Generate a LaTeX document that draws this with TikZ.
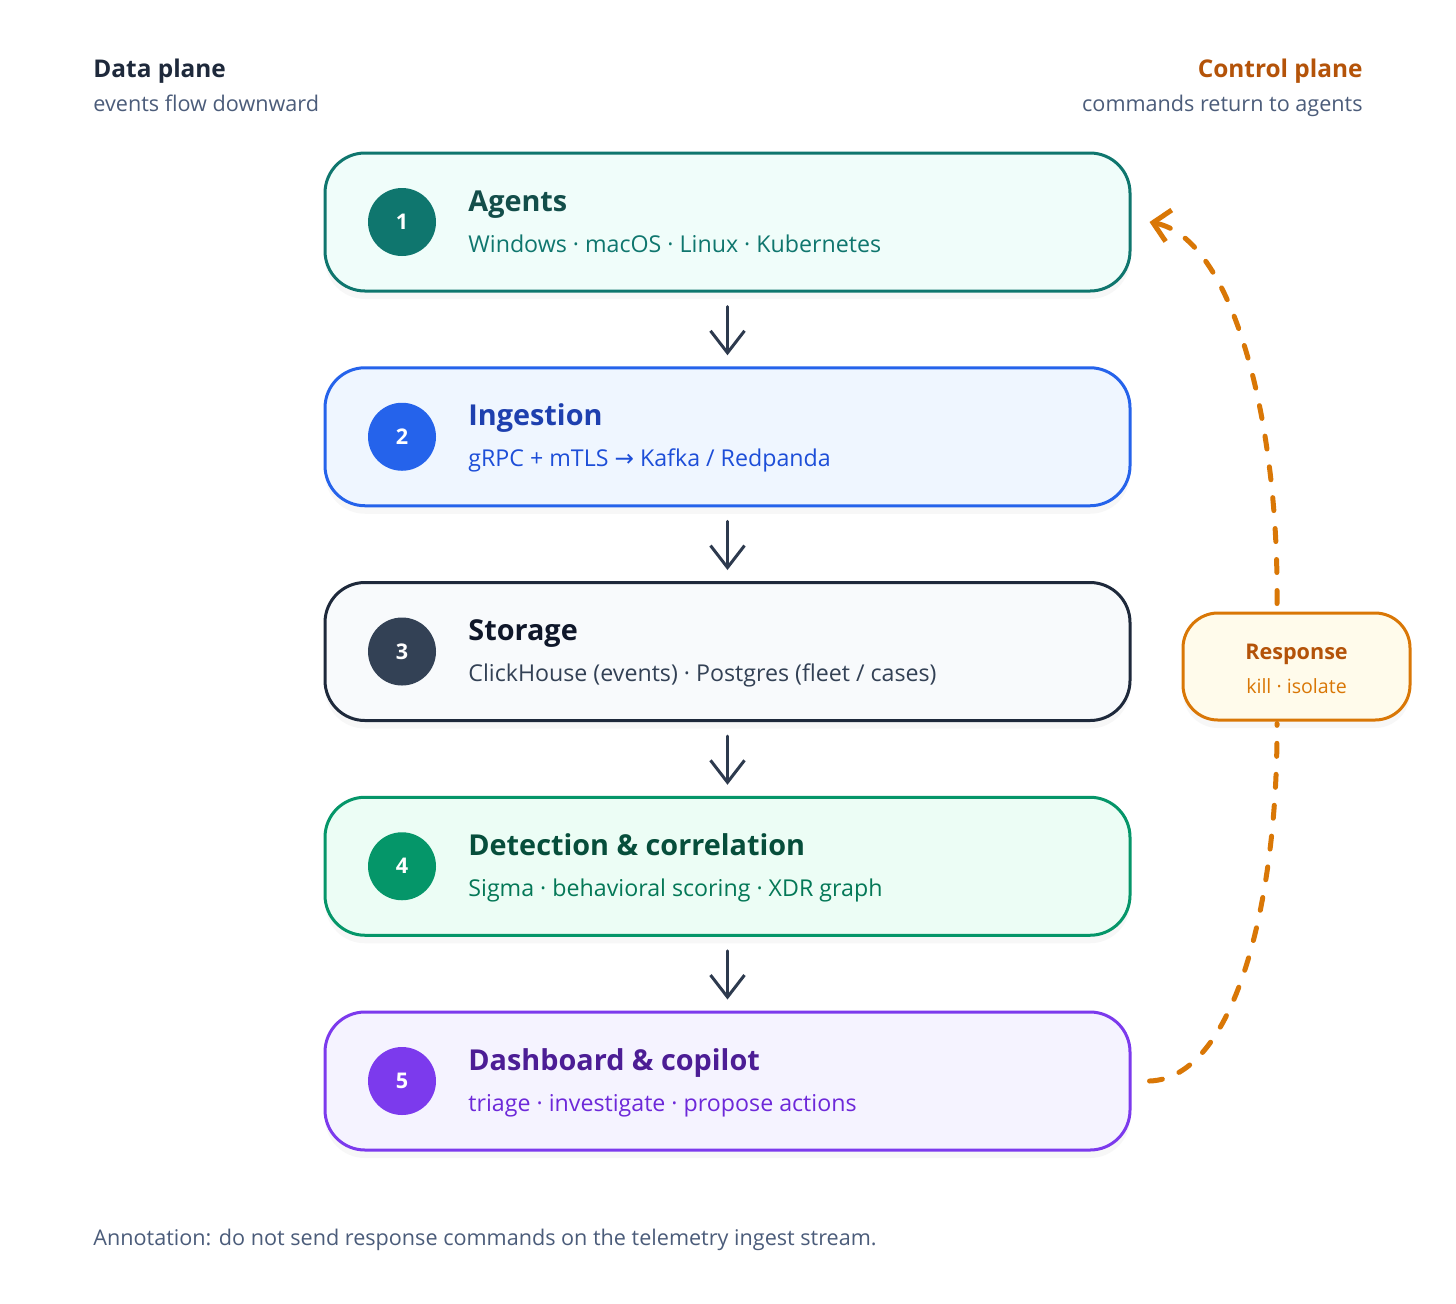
\documentclass[tikz,border=0pt]{standalone}
\usepackage{fontspec}
\setmainfont{Open Sans}
\newfontfamily\symfont{DejaVu Sans}
\usetikzlibrary{arrows.meta,shadows}
\definecolor{tealS}{HTML}{0F766E}\definecolor{tealF}{HTML}{F0FDFA}\definecolor{tealT}{HTML}{134E4A}
\definecolor{blueS}{HTML}{2563EB}\definecolor{blueF}{HTML}{EFF6FF}\definecolor{blueT}{HTML}{1E40AF}\definecolor{blueU}{HTML}{1D4ED8}
\definecolor{slateS}{HTML}{1E293B}\definecolor{slateF}{HTML}{F8FAFC}\definecolor{slateC}{HTML}{334155}\definecolor{slateT}{HTML}{0F172A}
\definecolor{greenS}{HTML}{059669}\definecolor{greenF}{HTML}{ECFDF5}\definecolor{greenT}{HTML}{064E3B}\definecolor{greenU}{HTML}{047857}
\definecolor{violS}{HTML}{7C3AED}\definecolor{violF}{HTML}{F5F3FF}\definecolor{violT}{HTML}{4C1D95}\definecolor{violU}{HTML}{6D28D9}
\definecolor{oranS}{HTML}{D97706}\definecolor{oranF}{HTML}{FFFBEB}\definecolor{oranT}{HTML}{B45309}
\definecolor{hdr}{HTML}{1E293B}\definecolor{muted}{HTML}{4B5C7A}\definecolor{flowC}{HTML}{2D3A4E}
\begin{document}
\begin{tikzpicture}[x=0.5pt,y=-0.5pt,
  stage/.style={rounded corners=20pt, line width=1.5pt, minimum width=402.5pt, minimum height=69pt, inner sep=0pt,
    drop shadow={opacity=0.06, shadow xshift=0pt, shadow yshift=-4pt}},
  num/.style={circle, minimum size=34pt, inner sep=0pt, text=white, font=\bfseries\fontsize{10.8}{12}\selectfont},
  ttl/.style={anchor=base west, inner sep=0pt, font=\bfseries\fontsize{14.4}{17}\selectfont},
  sub/.style={anchor=base west, inner sep=0pt, font=\fontsize{11.6}{14}\selectfont},
  flow/.style={draw=flowC, line width=1.5pt, line cap=round, shorten <=7pt, shorten >=5.5pt,
    -{Straight Barb[length=11pt,width=17pt]}},
  ctrl/.style={draw=oranS, line width=2.5pt, line cap=round, dash pattern=on 6.5pt off 9pt},
  hd/.style={inner sep=0pt, font=\bfseries\fontsize{12.2}{15}\selectfont},
  hs/.style={inner sep=0pt, text=muted, font=\fontsize{10.8}{13}\selectfont}]
\useasboundingbox[fill=white] (0,0) rectangle (1456,1303);

% headers
\node[hd, anchor=base west, text=hdr] (dp) at (93,77) {Data plane};
\node[hs, anchor=base west] (dps) at (93,111) {events flow downward};
\node[hd, anchor=base east, text=oranT] (cp) at (1363,77) {Control plane};
\node[hs, anchor=base east] (cps) at (1363,111) {commands return to agents};

% stages
\node[stage, draw=tealS, fill=tealF] (b1) at (727.5,222) {};
\node[num, fill=tealS] (n1) at (402,222) {1};
\node[ttl, text=tealT] (t1) at (468,211) {Agents};
\node[sub, text=tealS] (s1) at (468,252) {Windows · macOS · Linux · Kubernetes};

\node[stage, draw=blueS, fill=blueF] (b2) at (727.5,436.75) {};
\node[num, fill=blueS] (n2) at (402,436.75) {2};
\node[ttl, text=blueT] (t2) at (468,425.75) {Ingestion};
\node[sub, text=blueU] (s2) at (468,466.75) {gRPC + mTLS {\symfont →} Kafka / Redpanda};

\node[stage, draw=slateS, fill=slateF] (b3) at (727.5,651.5) {};
\node[num, fill=slateC] (n3) at (402,651.5) {3};
\node[ttl, text=slateT] (t3) at (468,640.5) {Storage};
\node[sub, text=slateC] (s3) at (468,681.5) {ClickHouse (events) · Postgres (fleet / cases)};

\node[stage, draw=greenS, fill=greenF] (b4) at (727.5,866.25) {};
\node[num, fill=greenS] (n4) at (402,866.25) {4};
\node[ttl, text=greenT] (t4) at (468,855.25) {Detection \& correlation};
\node[sub, text=greenU] (s4) at (468,896.25) {Sigma · behavioral scoring · XDR graph};

\node[stage, draw=violS, fill=violF] (b5) at (727.5,1081) {};
\node[num, fill=violS] (n5) at (402,1081) {5};
\node[ttl, text=violT] (t5) at (468,1070) {Dashboard \& copilot};
\node[sub, text=violU] (s5) at (468,1111) {triage · investigate · propose actions};

% flow arrows
\draw[flow] (b1.south) -- (b2.north);
\draw[flow] (b2.south) -- (b3.north);
\draw[flow] (b3.south) -- (b4.north);
\draw[flow] (b4.south) -- (b5.north);

% response
\node[rounded corners=17.5pt, line width=1.5pt, draw=oranS, fill=oranF, minimum width=113.5pt, minimum height=53.5pt, inner sep=0pt,
  drop shadow={opacity=0.06, shadow xshift=0pt, shadow yshift=-4pt}] (resp) at (1296.5,666.5) {};
\node[inner sep=0pt, anchor=base, text=oranT, font=\bfseries\fontsize{10.8}{13}\selectfont] (rt) at (1296.5,659) {Response};
\node[inner sep=0pt, anchor=base, text=oranS, font=\fontsize{9.8}{12}\selectfont] (rs) at (1296.5,693) {kill · isolate};

% control connectors
\draw[ctrl, -{Straight Barb[length=8pt,width=16pt]}] ([xshift=-9.75pt,yshift=4pt]resp.north)
  .. controls (1279,420) and (1232,238) .. ([xshift=9pt,yshift=0pt]b1.east);
\draw[ctrl] ([xshift=9pt]b5.east) .. controls (1235,1078) and (1278,900) .. ([xshift=-9.75pt,yshift=-1pt]resp.south);

% annotation
\node[hs, anchor=base west] (ann) at (93,1245) {Annotation: do not send response commands on the telemetry ingest stream.};
\end{tikzpicture}
\end{document}
